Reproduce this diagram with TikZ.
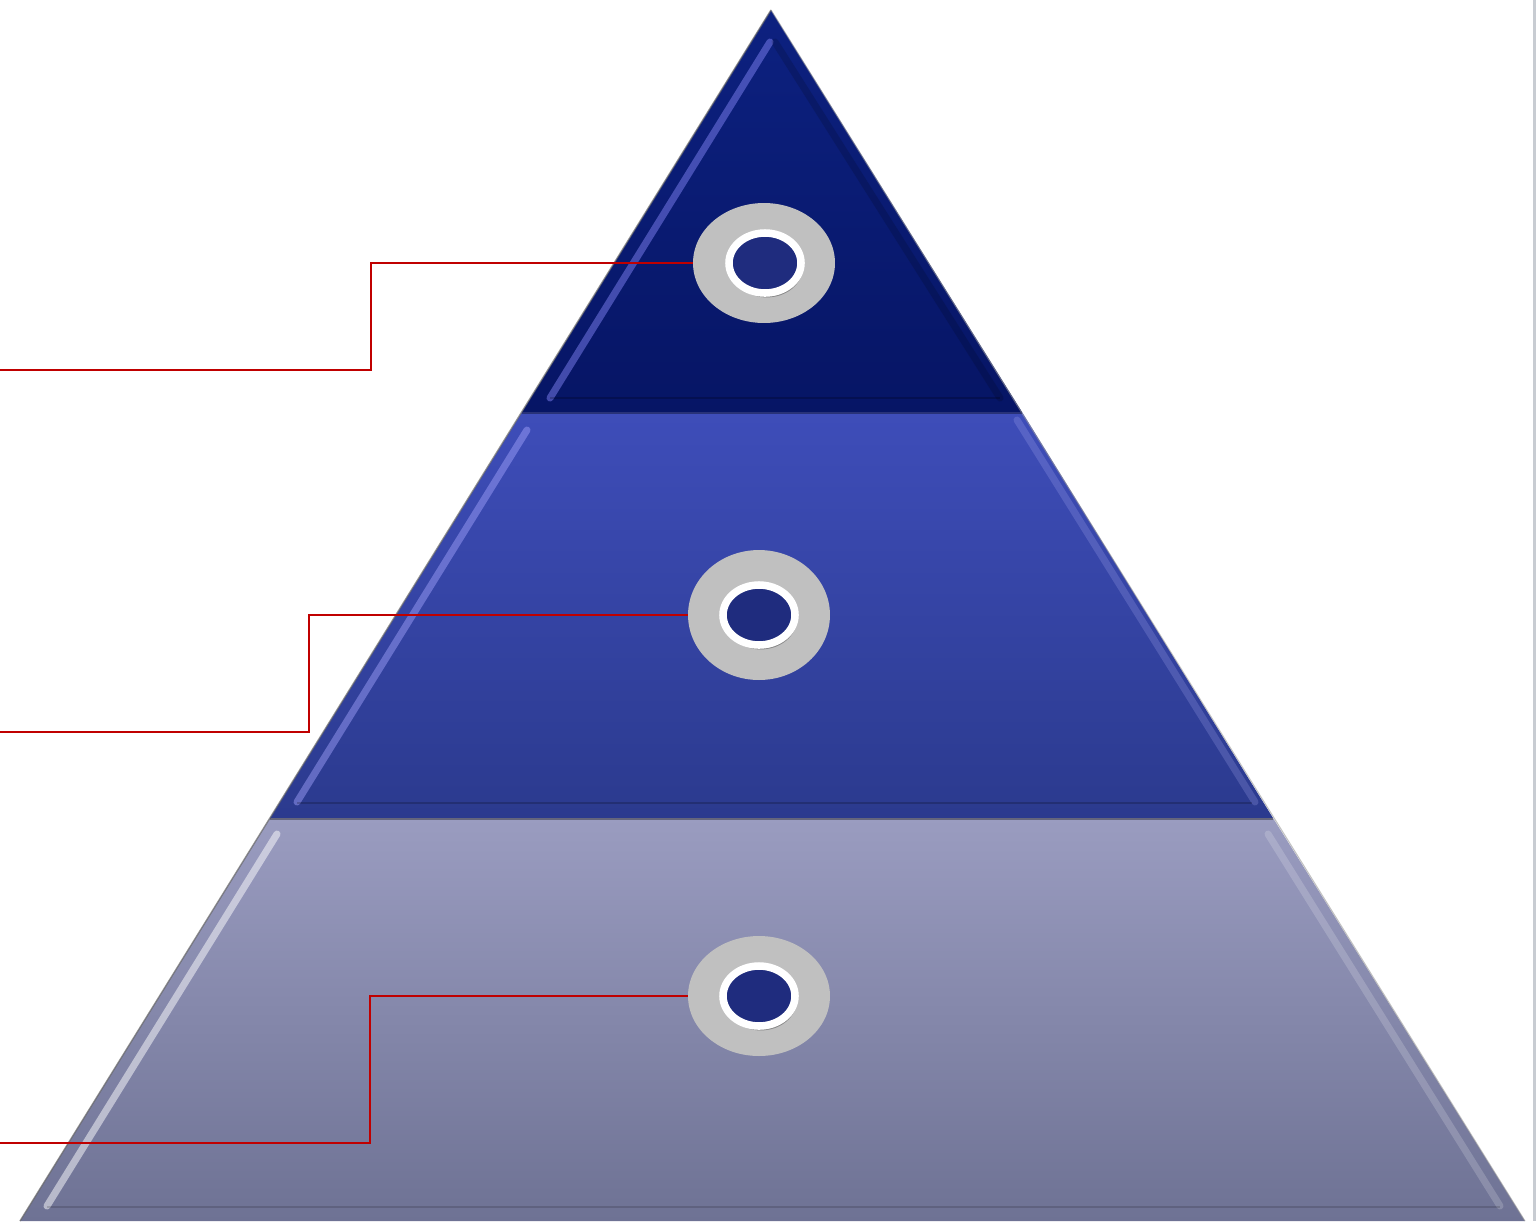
\documentclass[tikz,border=0pt]{standalone}
\usetikzlibrary{calc,shadows,shapes.geometric}
\definecolor{topA}{HTML}{0D2180}
\definecolor{topB}{HTML}{061565}
\definecolor{midA}{HTML}{3E4DB9}
\definecolor{midB}{HTML}{2B3A8E}
\definecolor{botA}{HTML}{9A9CC0}
\definecolor{botB}{HTML}{6E7294}
\definecolor{ringgray}{HTML}{C0C0C0}
\definecolor{dotblue}{HTML}{1F2C7E}
\definecolor{leadred}{HTML}{C00000}
\definecolor{edgegray}{HTML}{C8CCD2}
\tikzset{
  outer/.style={ellipse,fill=ringgray,minimum width=2.84cm,minimum height=2.4cm,inner sep=0pt},
  dot/.style={ellipse,fill=dotblue,draw=white,line width=4.3pt,minimum width=1.44cm,minimum height=1.2cm,inner sep=0pt,
     drop shadow={shadow xshift=1pt,shadow yshift=-2.5pt,fill=black,opacity=0.3}},
  lead/.style={draw=leadred,line width=1.1pt},
  hilite/.style={line width=4pt,line cap=round,opacity=0.45},
}
\begin{document}
\begin{tikzpicture}[x=0.02cm,y=-0.02cm]
\useasboundingbox (0,0) rectangle (1537,1221);
\fill[white] (0,0) rectangle (1537,1221);
% layers
\shade[top color=topA,bottom color=topB] (771,10) -- (1022,412) -- (522,412) -- cycle;
\shade[top color=midA,bottom color=midB] (522,412) -- (1022,412) -- (1273,818) -- (270,818) -- cycle;
\shade[top color=botA,bottom color=botB] (270,818) -- (1273,818) -- (1525,1221) -- (20,1221) -- cycle;
% outlines
\draw[black!60,line width=0.8pt,opacity=0.7] (771,10) -- (20,1221);
\draw[black!40,line width=0.6pt,opacity=0.6] (771,10) -- (1525,1221);
\draw[black,line width=0.9pt,opacity=0.35] (522,413) -- (1022,413);
\draw[black,line width=0.9pt,opacity=0.35] (270,819) -- (1273,819);
% bevel highlights
\draw[hilite,color=blue!45!white] (770,42) -- (550,398);
\draw[hilite,color=black,opacity=0.15] (775,42) -- (1000,398);
\draw[hilite,color=blue!35!white] (527,430) -- (297,802);
\draw[hilite,color=blue!25!white,opacity=0.2] (1017,420) -- (1255,802);
\draw[hilite,color=white,opacity=0.5] (277,834) -- (47,1206);
\draw[hilite,color=white,opacity=0.18] (1268,834) -- (1500,1206);
\draw[black,line width=0.6pt,opacity=0.2] (550,398) -- (1000,398);
\draw[black,line width=0.6pt,opacity=0.2] (297,803) -- (1252,803);
\draw[black,line width=0.6pt,opacity=0.15] (47,1207) -- (1500,1207);
% right page edge
\draw[edgegray,line width=1.7pt] (1534.5,0) -- (1534.5,1221);
% markers
\node[outer] (o1) at (764,263) {};
\node[outer,minimum height=2.6cm] (o2) at (759,615) {};
\node[outer] (o3) at (759,996) {};
\node[dot] (d1) at (765,263) {};
\node[dot] (d2) at (759,615) {};
\node[dot] (d3) at (759,996) {};
% leaders
\coordinate (s1) at (0,370);
\coordinate (s2) at (0,732);
\coordinate (s3) at (0,1143);
\draw[lead] (s1) -- (371,370) |- (o1.west);
\draw[lead] (s2) -- (309,732) |- (o2.west);
\draw[lead] (s3) -- (370,1143) |- (o3.west);
\end{tikzpicture}
\end{document}
